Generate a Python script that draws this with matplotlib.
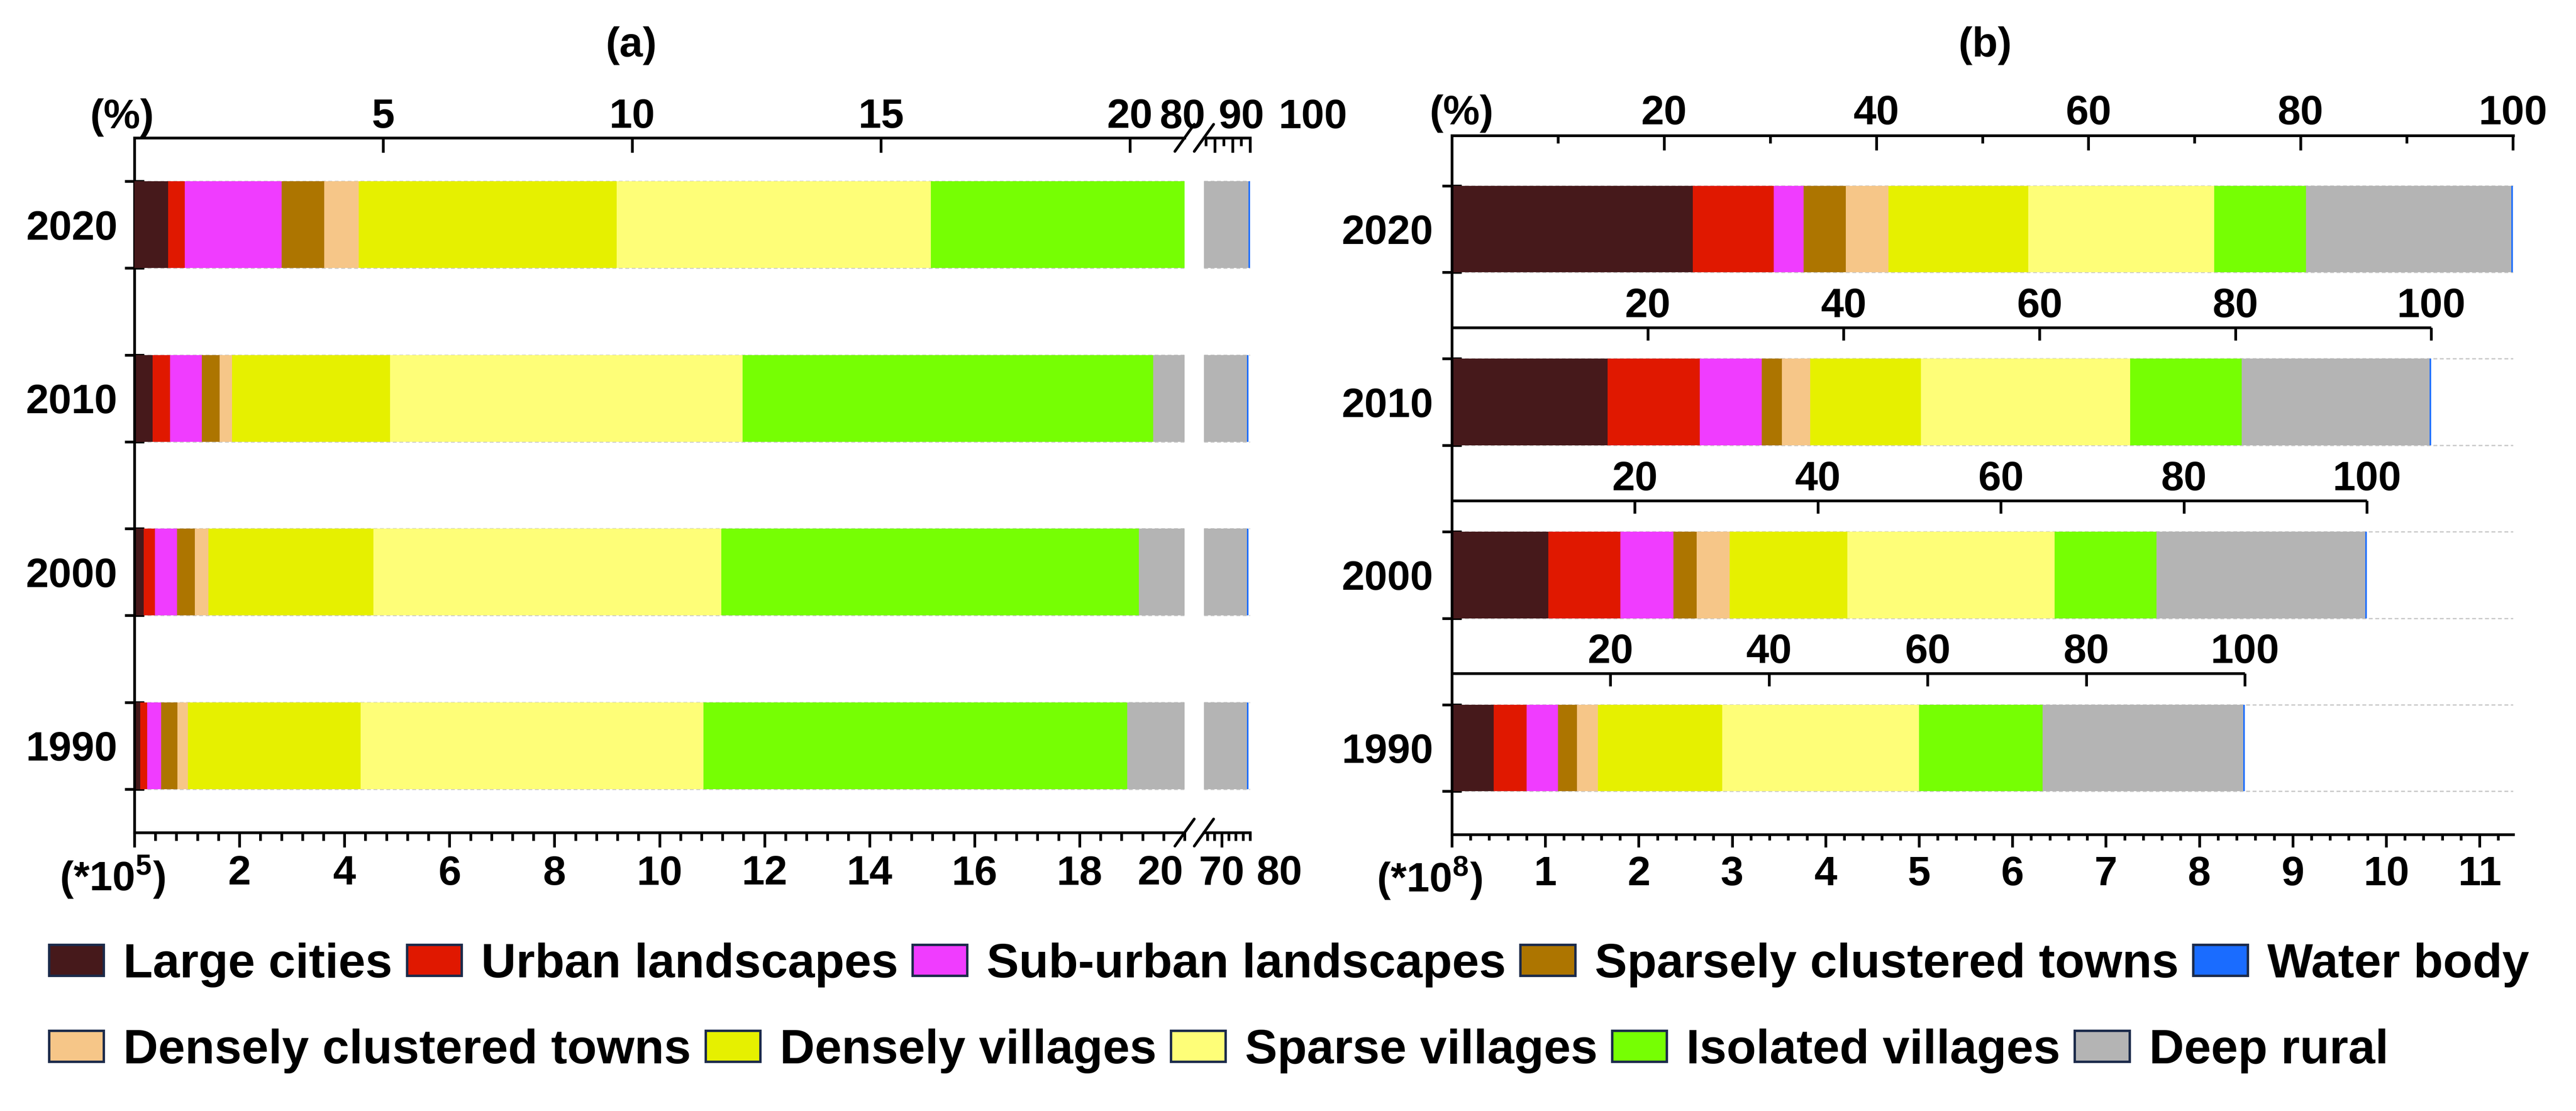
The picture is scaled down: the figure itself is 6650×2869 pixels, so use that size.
import matplotlib.pyplot as plt
import numpy as np
from matplotlib.lines import Line2D
from matplotlib.patches import Patch
from matplotlib.ticker import FixedLocator, MultipleLocator

plt.rcParams['font.family'] = ['Liberation Sans', 'DejaVu Sans']
plt.rcParams['font.weight'] = 'bold'
plt.rcParams['font.size'] = 25.5
plt.rcParams['mathtext.fontset'] = 'custom'
plt.rcParams['mathtext.rm'] = 'Liberation Sans:bold'
plt.rcParams['mathtext.default'] = 'rm'

classes = ['Large cities', 'Urban landscapes', 'Sub-urban landscapes', 'Sparsely clustered towns',
           'Densely clustered towns', 'Densely villages', 'Sparse villages', 'Isolated villages',
           'Deep rural', 'Water body']
colors = ['#46191b', '#e01800', '#f03cff', '#ad7500', '#f6c688',
          '#e6f000', '#fefe78', '#76ff03', '#b4b4b4', '#1a6cff']
years = ['1990', '2000', '2010', '2020']

# panel (a): 2020 read on the top axis (%), the other years on the bottom axis (*10^5)
a_2020_pct = [0.68, 0.33, 1.95, 0.85, 0.70, 5.18, 6.31, 5.10, 78.0, 0.9]
a_2010 = [0.35, 0.33, 0.60, 0.34, 0.24, 3.01, 6.71, 7.82, 57.69, 0.45]
a_2000 = [0.18, 0.21, 0.42, 0.34, 0.26, 3.14, 6.63, 7.95, 57.96, 0.45]
a_1990 = [0.11, 0.13, 0.27, 0.31, 0.20, 3.29, 6.53, 8.07, 58.18, 0.45]

# panel (b): area (*10^8)
b_2020 = [2.577, 0.868, 0.318, 0.455, 0.455, 1.495, 1.993, 0.979, 2.199, 0.017]
b_2010 = [1.667, 0.988, 0.662, 0.215, 0.301, 1.186, 2.242, 1.194, 2.010, 0.017]
b_2000 = [1.031, 0.773, 0.567, 0.249, 0.352, 1.263, 2.216, 1.091, 2.234, 0.017]
b_1990 = [0.447, 0.352, 0.335, 0.206, 0.223, 1.332, 2.105, 1.323, 2.148, 0.017]

pct_ticks = [20, 40, 60, 80, 100]

W, H, DPI = 6650, 2869, 300
LW = 1.7
fig = plt.figure(figsize=(W / DPI, H / DPI), dpi=DPI)


def px(x0, y0, x1, y1):
    return [x0 / W, 1 - y1 / H, (x1 - x0) / W, (y1 - y0) / H]


axL = fig.add_axes(px(347, 356, 3058, 2150))
axR = fig.add_axes(px(3108, 356, 3227, 2150))
axB = fig.add_axes(px(3748, 350, 6488, 2155))

ypos = np.arange(len(years))
bar_h = 0.5


def stack(ax, y, vals):
    left = 0
    for v, c in zip(vals, colors):
        ax.barh(y, v, left=left, height=bar_h, color=c, linewidth=0)
        left += v


def style_y(ax, top, labels=True, pad=10.5):
    ax.set_ylim(-0.5, top)
    ax.set_yticks(ypos)
    ax.set_yticklabels(years if labels else [])
    edges = sorted([y + s * bar_h / 2 for y in ypos for s in (-1, 1)])
    ax.yaxis.set_minor_locator(FixedLocator(edges))
    ax.tick_params(axis='y', which='major', length=0, pad=pad)
    if labels:
        ax.tick_params(axis='y', which='minor', direction='inout', length=12, width=LW)
    else:
        ax.tick_params(axis='y', which='minor', length=0)
    ax.grid(axis='y', which='minor', color='#c8c8c8', linestyle=(0, (3, 2)), linewidth=0.8)
    ax.set_axisbelow(True)


def only_spines(ax, keep):
    for k, s in ax.spines.items():
        s.set_visible(k in keep)
        s.set_linewidth(LW)


def note(ax, text, x, y, dx, dy, va):
    ax.annotate(text, xy=(x, y), xycoords=ax.get_xaxis_transform(), xytext=(dx, dy),
                textcoords='offset points', ha='center', va=va, annotation_clip=False)


# ---------------- panel (a) ----------------
for ax in (axL, axR):
    for y, vals in zip(ypos[:3], [a_1990, a_2000, a_2010]):
        stack(ax, y, vals)

style_y(axL, 3.5, labels=True, pad=10.5)
style_y(axR, 3.5, labels=False)
only_spines(axL, ['left', 'bottom'])
only_spines(axR, ['bottom'])

axL.set_xlim(0, 20)
axL.xaxis.set_major_locator(FixedLocator(list(range(0, 19, 2))))
axL.set_xticklabels([''] + [str(v) for v in range(2, 19, 2)])
axL.xaxis.set_minor_locator(MultipleLocator(0.4))
axR.set_xlim(65, 78)
axR.xaxis.set_major_locator(FixedLocator([70]))
axR.set_xticklabels(['70'])
axR.xaxis.set_minor_locator(FixedLocator([66, 68, 72, 74, 76, 78]))
for ax in (axL, axR):
    ax.tick_params(axis='x', which='major', direction='out', length=9, width=LW, pad=4.8)
    ax.tick_params(axis='x', which='minor', direction='out', length=5, width=LW)
note(axL, r'(*10$^{5}$)', 0, 0, -13.7, -13.7, 'top')
note(axL, '20', 20, 0, -15, -13.7, 'top')
note(axR, '80', 80, 0, 13.7, -13.7, 'top')

axLt = axL.twiny()
axRt = axR.twiny()
for ax in (axLt, axRt):
    stack(ax, ypos[3], a_2020_pct)
    only_spines(ax, ['top'])
axLt.set_xlim(0, 21.1)
axLt.xaxis.set_major_locator(FixedLocator([5, 10, 15, 20]))
axLt.set_xticklabels(['5', '10', '15', '20'])
axLt.tick_params(axis='x', which='major', direction='in', length=9, width=LW, pad=1)
note(axLt, '(%)', 0, 1, -7.7, 6, 'baseline')
axRt.set_xlim(73.8, 100)
axRt.xaxis.set_major_locator(FixedLocator([80, 90, 100]))
axRt.set_xticklabels([])
axRt.xaxis.set_minor_locator(FixedLocator([75, 85, 95]))
axRt.tick_params(axis='x', which='major', direction='in', length=9, width=LW)
axRt.tick_params(axis='x', which='minor', direction='in', length=5, width=LW)
for v, dx in zip([80, 90, 100], [-20, 5.5, 39]):
    note(axRt, str(v), v, 1, dx, 6, 'baseline')

# axis break marks
posL, posR = axL.get_position(), axR.get_position()
for yf in (posL.y0, posL.y1):
    for xc in (posL.x1, posR.x0):
        fig.add_artist(Line2D([xc - 25 / W, xc + 25 / W], [yf - 35 / H, yf + 35 / H],
                              color='black', lw=LW, solid_capstyle='round'))

# ---------------- panel (b) ----------------
b_vals = [b_1990, b_2000, b_2010, b_2020]
for y, vals in zip(ypos, b_vals):
    stack(axB, y, vals)
style_y(axB, 3.54, labels=True, pad=11.5)
only_spines(axB, ['left', 'bottom'])
b_max = 11.36
axB.set_xlim(0, b_max)
axB.xaxis.set_major_locator(FixedLocator(list(range(0, 12))))
axB.set_xticklabels([''] + [str(v) for v in range(1, 12)])
axB.xaxis.set_minor_locator(MultipleLocator(0.2))
axB.tick_params(axis='x', which='major', direction='out', length=8, width=LW, pad=5)
axB.tick_params(axis='x', which='minor', direction='out', length=3.6, width=LW)
note(axB, r'(*10$^{8}$)', 0, 0, -14, -13, 'top')

axBt = axB.twiny()
only_spines(axBt, ['top'])
axBt.set_xlim(0, 100 * b_max / sum(b_2020))
axBt.xaxis.set_major_locator(FixedLocator(pct_ticks))
axBt.set_xticklabels([str(v) for v in pct_ticks])
axBt.xaxis.set_minor_locator(FixedLocator([10, 30, 50, 70, 90]))
axBt.tick_params(axis='x', which='major', direction='in', length=9, width=LW, pad=1.7)
axBt.tick_params(axis='x', which='minor', direction='in', length=4.7, width=LW)
note(axBt, '(%)', 0, 1, 6, 7, 'baseline')

# per-year percentage scales above the 1990-2010 bars
for y, vals in zip(ypos[:3], b_vals[:3]):
    total = sum(vals)
    yl = y + 0.43
    axB.plot([0, total], [yl, yl], color='black', lw=LW, solid_capstyle='butt', clip_on=False)
    xs = [p * total / 100 for p in pct_ticks]
    axB.plot(xs, [yl] * len(xs), linestyle='none', marker=3, markersize=8,
             markeredgewidth=LW, color='black', clip_on=False)
    for p, x in zip(pct_ticks, xs):
        axB.annotate(str(p), xy=(x, yl), xytext=(0, 6.5), textcoords='offset points',
                     ha='center', va='baseline')

# titles
fig.text(1630 / W, 1 - 118 / H, '(a)', ha='center', va='center', fontsize=26)
fig.text(5125 / W, 1 - 118 / H, '(b)', ha='center', va='center', fontsize=26)

# legend in two rows
handles = [Patch(facecolor=c, edgecolor='#1b2a4a', linewidth=1.5, label=n)
           for n, c in zip(classes, colors)]
rows = [[0, 1, 2, 3, 9], [4, 5, 6, 7, 8]]
for row, yc in zip(rows, [2492, 2714]):
    fig.legend(handles=[handles[i] for i in row], loc='center left',
               bbox_to_anchor=(127 / W, 1 - yc / H), ncol=5, frameon=False,
               fontsize=30.0, handlelength=1.13, handleheight=0.6, handletextpad=0.4,
               columnspacing=0.3, borderpad=0, borderaxespad=0)

fig.savefig('out.png', dpi=DPI)
